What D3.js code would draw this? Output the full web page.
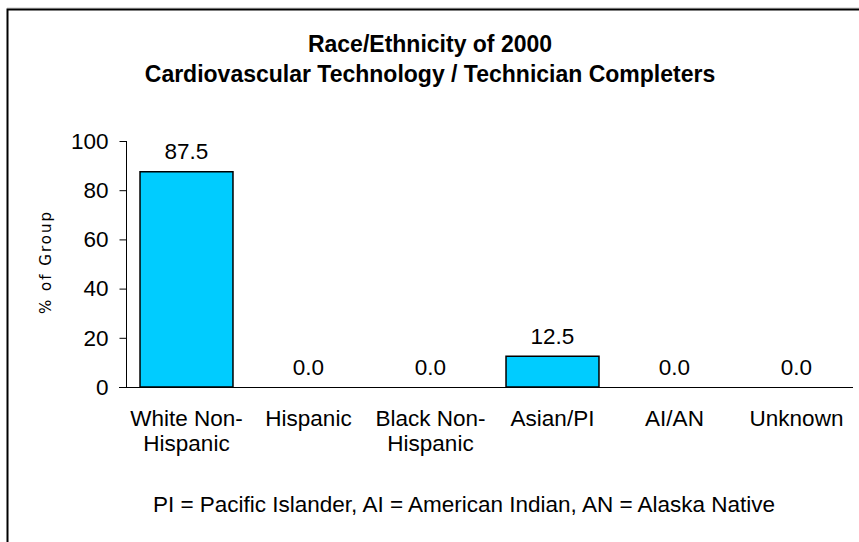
<!DOCTYPE html>
<html><head><meta charset="utf-8">
<script src="https://cdn.jsdelivr.net/npm/d3@7"></script>
<style>
html,body{margin:0;padding:0;background:#fff;}
svg{display:block;font-family:"Liberation Sans",Arial,sans-serif;}
</style></head>
<body>
<script>
const categories = [["White Non-","Hispanic"],["Hispanic"],["Black Non-","Hispanic"],["Asian/PI"],["AI/AN"],["Unknown"]];
const values = [87.5, 0.0, 0.0, 12.5, 0.0, 0.0];
const yTicks = [0, 20, 40, 60, 80, 100];
const titleLines = ["Race/Ethnicity of 2000", "Cardiovascular Technology / Technician Completers"];
const yTitle = "% of Group";
const footnote = "PI = Pacific Islander, AI = American Indian, AN = Alaska Native";

const W = 859, H = 542;
const FS = 22.5;
const svg = d3.select("body").append("svg").attr("width", W).attr("height", H);

// frame
svg.append("line").attr("x1",7).attr("x2",W).attr("y1",8).attr("y2",8).attr("stroke","#c8c8c8").attr("stroke-width",1);
svg.append("path").attr("d",`M7.5,${H} V9.5 H${W}`).attr("fill","none").attr("stroke","#000").attr("stroke-width",2);

// title
svg.selectAll("text.title").data(titleLines).join("text")
  .attr("class","title")
  .attr("x", 430).attr("y",(d,i)=>52+i*30)
  .attr("text-anchor","middle")
  .attr("font-weight","bold").attr("font-size",23)
  .text(d=>d);

const idx = categories.map((d,i)=>i);
const x = d3.scaleBand().domain(idx).range([125.5, 857.5]).paddingInner(0.238).paddingOuter(0.119);
const y = d3.scaleLinear().domain([0,100]).range([387, 141]);

// y axis
const yAxis = svg.append("g").attr("transform","translate(126.5,0)")
  .call(d3.axisLeft(y).tickValues(yTicks).tickSize(7).tickPadding(11).tickFormat(d3.format("d")));
yAxis.select(".domain").attr("stroke","#000").attr("d","M0,141V387.5");
yAxis.selectAll(".tick line").attr("stroke","#000");
yAxis.selectAll(".tick text").attr("font-size",FS).attr("fill","#000").attr("font-family","Liberation Sans, Arial, sans-serif");

// bars
svg.selectAll("rect.bar").data(values).join("rect")
  .attr("class","bar")
  .attr("x",(d,i)=>x(i)).attr("width",x.bandwidth())
  .attr("y",d=>y(d)).attr("height",d=>y(0)-y(d))
  .attr("fill","#00ccff").attr("stroke","#000").attr("stroke-width",1.5)
  .attr("visibility",d=>d>0?"visible":"hidden");

// x axis line
svg.append("line").attr("x1",119).attr("x2",853).attr("y1",y(0)+0.5).attr("y2",y(0)+0.5).attr("stroke","#000").attr("stroke-width",1);

// value labels
svg.selectAll("text.val").data(values).join("text")
  .attr("class","val")
  .attr("x",(d,i)=>x(i)+x.bandwidth()/2).attr("y",d=>y(d)-12.5)
  .attr("text-anchor","middle").attr("font-size",FS)
  .text(d=>d3.format(".1f")(d));

// category labels
const cl = svg.selectAll("text.cat").data(categories).join("text")
  .attr("class","cat")
  .attr("text-anchor","middle").attr("font-size",FS);
cl.selectAll("tspan").data((d,i)=>d.map(s=>({s,i}))).join("tspan")
  .attr("x",d=>x(d.i)+x.bandwidth()/2)
  .attr("y",(d,j)=>425.5+j*25.5)
  .text(d=>d.s);

// y title
svg.append("text").attr("transform","translate(51,262) rotate(-90)")
  .attr("text-anchor","middle").attr("font-size",15)
  .attr("font-family","DejaVu Sans, sans-serif").attr("letter-spacing",2)
  .text(yTitle);

// footnote
svg.append("text").attr("x",464).attr("y",512).attr("text-anchor","middle").attr("font-size",FS).text(footnote);
</script>
</body></html>
